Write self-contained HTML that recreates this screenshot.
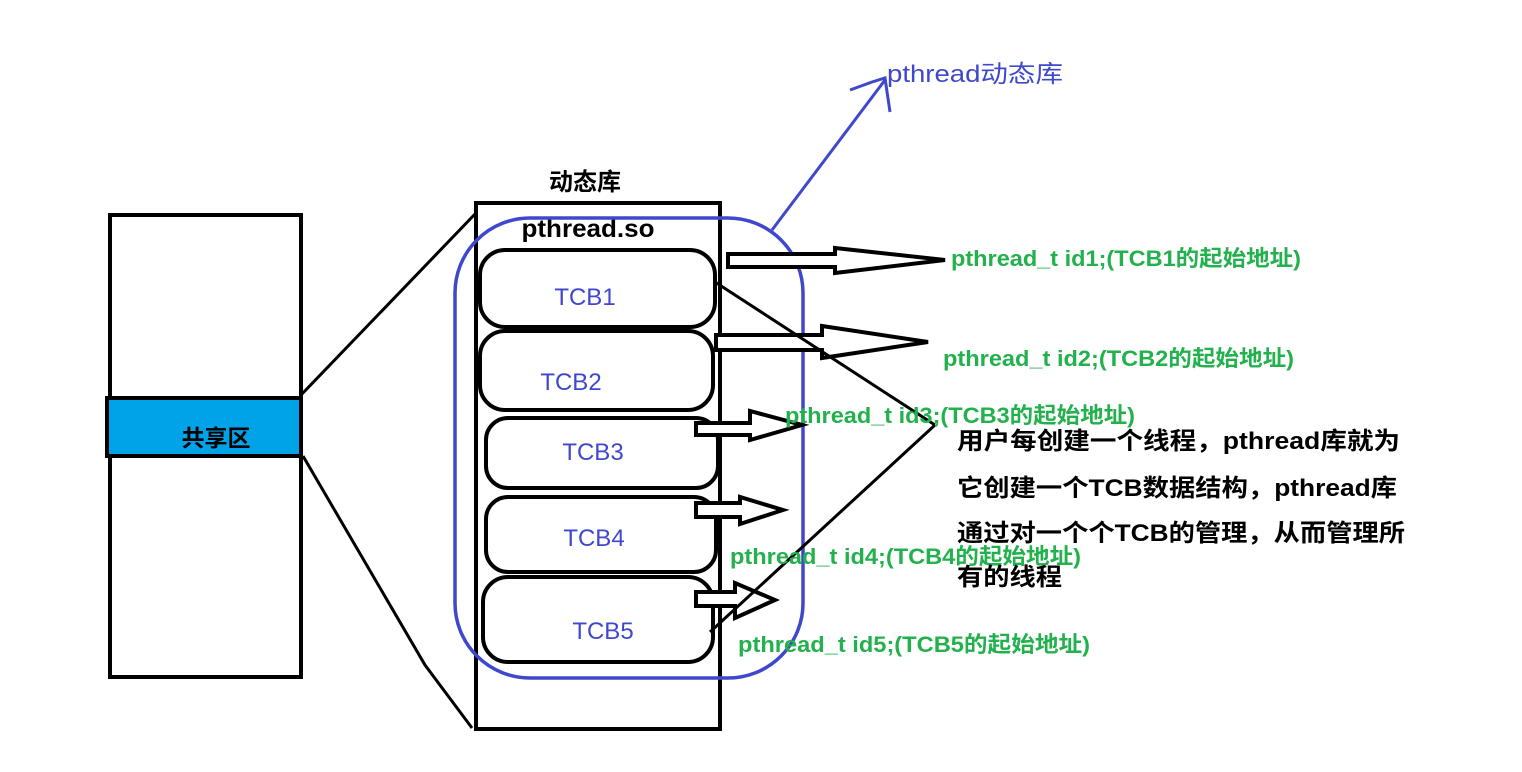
<!DOCTYPE html>
<html><head><meta charset="utf-8"><style>
html,body{margin:0;padding:0;background:#fff}
svg{display:block}
text{font-family:"Liberation Sans","Noto Sans CJK SC",sans-serif;font-weight:bold}
.g{fill:#22b14c;font-size:22px}
.b{fill:#000;font-size:24px}
.t{fill:#3f48cc;font-size:24px;font-weight:normal}
</style></head><body>
<svg width="1522" height="772" viewBox="0 0 1522 772">
<rect x="0" y="0" width="1522" height="772" fill="#fff"/>
<rect x="110" y="215" width="191" height="462" fill="none" stroke="#000" stroke-width="4"/>
<rect x="107" y="398" width="194" height="58" fill="#00a2e8" stroke="#000" stroke-width="4"/>
<text x="216" y="446" text-anchor="middle" style="font-size:23px">共享区</text>
<polyline points="301,395 476,213" fill="none" stroke="#000" stroke-width="3"/>
<polyline points="303,456 425,665 472,728" fill="none" stroke="#000" stroke-width="3"/>
<rect x="476" y="203" width="244" height="526" fill="none" stroke="#000" stroke-width="4"/>
<text x="585" y="190" text-anchor="middle" style="font-size:24px">动态库</text>
<text x="588" y="237" text-anchor="middle" style="font-size:25px" textLength="133" lengthAdjust="spacingAndGlyphs">pthread.so</text>
<rect x="455" y="218" width="348" height="460" rx="75" ry="75" fill="none" stroke="#3f48cc" stroke-width="3.5"/>
<polyline points="772,230 885,80" fill="none" stroke="#3f48cc" stroke-width="3"/>
<polyline points="850,90 872,82 885,78 890,112" fill="none" stroke="#3f48cc" stroke-width="3"/>
<text x="887" y="82" style="font-size:24px;fill:#3f48cc;font-weight:normal" textLength="176" lengthAdjust="spacingAndGlyphs">pthread动态库</text>
<g fill="none" stroke="#000" stroke-width="4">
<rect x="480" y="250" width="235" height="77" rx="25"/>
<rect x="480" y="331" width="233" height="79" rx="25"/>
<rect x="486" y="418" width="232" height="70" rx="22"/>
<rect x="486" y="497" width="230" height="75" rx="22"/>
<rect x="483" y="577" width="230" height="85" rx="25"/>
</g>
<text class="t" x="585" y="305" text-anchor="middle">TCB1</text>
<text class="t" x="571" y="390" text-anchor="middle">TCB2</text>
<text class="t" x="593" y="460" text-anchor="middle">TCB3</text>
<text class="t" x="594" y="546" text-anchor="middle">TCB4</text>
<text class="t" x="603" y="639" text-anchor="middle">TCB5</text>
<g fill="#fff" stroke="#000" stroke-width="4" stroke-linejoin="miter">
<polygon points="728,254 835,254 835,248 945,260 835,273 835,267 728,267"/>
<polygon points="716,335 822,335 822,326 928,342 822,358 822,350 716,350"/>
<polygon points="696,423 750,423 750,411 802,425 750,440 750,435 696,435"/>
<polygon points="696,503 740,503 740,497 783,510 740,524 740,517 696,517"/>
<polygon points="696,592 735,592 735,583 775,600 735,618 735,606 696,606"/>
</g>
<polyline points="715,282 935,425" fill="none" stroke="#000" stroke-width="3"/>
<polyline points="710,632 935,425" fill="none" stroke="#000" stroke-width="3"/>
<text class="g" x="951" y="266" textLength="350" lengthAdjust="spacingAndGlyphs">pthread_t id1;(TCB1的起始地址)</text>
<text class="g" x="943" y="366" textLength="351" lengthAdjust="spacingAndGlyphs">pthread_t id2;(TCB2的起始地址)</text>
<text class="g" x="785" y="423" textLength="350" lengthAdjust="spacingAndGlyphs">pthread_t id3;(TCB3的起始地址)</text>
<text class="g" x="730" y="564" textLength="351" lengthAdjust="spacingAndGlyphs">pthread_t id4;(TCB4的起始地址)</text>
<text class="g" x="738" y="652" textLength="352" lengthAdjust="spacingAndGlyphs">pthread_t id5;(TCB5的起始地址)</text>
<text class="b" x="957" y="449" textLength="443" lengthAdjust="spacingAndGlyphs">用户每创建一个线程，pthread库就为</text>
<text class="b" x="957" y="496" textLength="440" lengthAdjust="spacingAndGlyphs">它创建一个TCB数据结构，pthread库</text>
<text class="b" x="957" y="541" textLength="448" lengthAdjust="spacingAndGlyphs">通过对一个个TCB的管理，从而管理所</text>
<text class="b" x="957" y="585" textLength="105" lengthAdjust="spacingAndGlyphs">有的线程</text>
</svg>
</body></html>
